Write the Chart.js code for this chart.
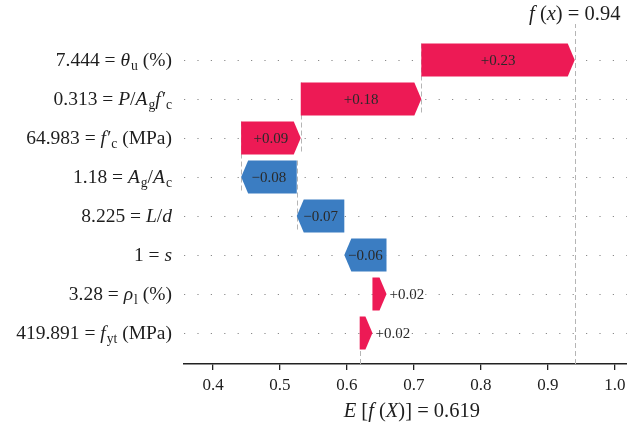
<!DOCTYPE html>
<html>
<head>
<meta charset="utf-8">
<script src="https://cdn.jsdelivr.net/npm/chart.js@4.4.0/dist/chart.umd.min.js"></script>
<style>
  html, body { margin: 0; padding: 0; background: #fff; }
</style>
</head>
<body>
<canvas id="shapChart" width="627" height="431"></canvas>
<script>
// expected model output for the data set
const baseValue = 0.619;

// features, top row first
const featureValues = ["7.444", "0.313", "64.983", "1.18", "8.225", "1", "3.28", "419.891"];
// rich-text pieces: i = italic, sub = subscript
const featureNames = [
    [{ t: "θ", i: 1 }, { t: "u", sub: 1 }, { t: " (%)" }],
    [{ t: "P", i: 1 }, { t: "/" }, { t: "A", i: 1 }, { t: "g", sub: 1 }, { t: "f′", i: 1 }, { t: "c", sub: 1 }],
    [{ t: "f′", i: 1 }, { t: "c", sub: 1 }, { t: " (MPa)" }],
    [{ t: "A", i: 1 }, { t: "g", sub: 1 }, { t: "/" }, { t: "A", i: 1 }, { t: "c", sub: 1 }],
    [{ t: "L", i: 1 }, { t: "/" }, { t: "d", i: 1 }],
    [{ t: "s", i: 1 }],
    [{ t: "ρ", i: 1 }, { t: "l", sub: 1 }, { t: " (%)" }],
    [{ t: "f", i: 1 }, { t: "yt", sub: 1 }, { t: " (MPa)" }]
];
const shapValues = [0.229, 0.180, 0.089, -0.083, -0.071, -0.063, 0.021, 0.019];
const xTicks = [0.4, 0.5, 0.6, 0.7, 0.8, 0.9, 1.0];

const RED = "#ED1A55";
const BLUE = "#3B7DC2";
const SERIF = "'Liberation Serif', 'DejaVu Serif', serif";

// waterfall: accumulate from the bottom row upwards
const n = shapValues.length;
const starts = new Array(n);
let acc = baseValue;
for (let i = n - 1; i >= 0; i--) {
    starts[i] = acc;
    acc += shapValues[i];
}
const fx = acc;
const barData = shapValues.map((v, i) => ({ x: [starts[i], starts[i] + v], y: n - 1 - i }));

function fmtShap(v) {
    return (v >= 0 ? "+" : "\u2212") + Math.abs(v).toFixed(2);
}

function richWidth(ctx, parts, size) {
    let w = 0;
    parts.forEach(p => {
        const s = p.sub ? size * 0.7 : size;
        ctx.font = (p.i ? "italic " : "") + s + "px " + SERIF;
        w += ctx.measureText(p.t).width + (p.sub ? 1 : 0);
    });
    return w;
}

function drawRich(ctx, parts, xRight, y, size) {
    let x = xRight - richWidth(ctx, parts, size);
    ctx.textAlign = "left";
    ctx.textBaseline = "alphabetic";
    parts.forEach(p => {
        const s = p.sub ? size * 0.7 : size;
        ctx.font = (p.i ? "italic " : "") + s + "px " + SERIF;
        ctx.fillText(p.t, x + (p.sub ? 1 : 0), p.sub ? y + size * 0.22 : y);
        x += ctx.measureText(p.t).width + (p.sub ? 1 : 0);
    });
}

const waterfallPlugin = {
    id: "waterfall",
    beforeDatasetsDraw(chart) {
        const { ctx, chartArea, scales } = chart;
        const xs = scales.x, ys = scales.y;
        ctx.save();
        // dotted guide for every row
        ctx.strokeStyle = "#8a8a8a";
        ctx.lineWidth = 1.2;
        ctx.setLineDash([1.2, 12.2]);
        for (let r = 0; r < n; r++) {
            const y = Math.round(ys.getPixelForValue(r)) + 0.5;
            ctx.beginPath();
            ctx.moveTo(chartArea.left, y);
            ctx.lineTo(chartArea.right, y);
            ctx.stroke();
        }
        // dashed connectors between consecutive bars (top four rows)
        ctx.strokeStyle = "#b5b5b5";
        ctx.lineWidth = 1;
        ctx.setLineDash([5, 3]);
        for (let i = 0; i < n; i++) {
            if (i + 4 >= n) continue;
            const r = n - 1 - i;
            const x = Math.round(xs.getPixelForValue(starts[i])) + 0.5;
            ctx.beginPath();
            ctx.moveTo(x, ys.getPixelForValue(r + 0.42));
            ctx.lineTo(x, ys.getPixelForValue(r - 1.42));
            ctx.stroke();
        }
        // expected value and prediction lines
        const bx = Math.round(xs.getPixelForValue(baseValue)) + 0.5;
        ctx.beginPath();
        ctx.moveTo(bx, chartArea.bottom);
        ctx.lineTo(bx, chartArea.bottom - (chartArea.bottom - chartArea.top) / n);
        ctx.stroke();
        const fxp = Math.round(xs.getPixelForValue(fx)) + 0.5;
        ctx.beginPath();
        ctx.moveTo(fxp, chartArea.bottom);
        ctx.lineTo(fxp, chartArea.top);
        ctx.stroke();
        ctx.restore();
    },
    afterDatasetsDraw(chart) {
        const { ctx, scales } = chart;
        const xs = scales.x;
        const meta = chart.getDatasetMeta(0);
        ctx.save();
        meta.data.forEach((el, i) => {
            const v = shapValues[i];
            const x0 = xs.getPixelForValue(starts[i]);
            const x1 = xs.getPixelForValue(starts[i] + v);
            const top = el.y - el.height / 2, bot = el.y + el.height / 2;
            const w = Math.abs(x1 - x0);
            const head = Math.min(7, w * 0.55);
            const dir = v >= 0 ? 1 : -1;
            const neck = x1 - dir * head;
            ctx.fillStyle = v >= 0 ? RED : BLUE;
            ctx.beginPath();
            ctx.moveTo(x0, top);
            ctx.lineTo(neck, top);
            ctx.lineTo(x1, el.y);
            ctx.lineTo(neck, bot);
            ctx.lineTo(x0, bot);
            ctx.closePath();
            ctx.fill();

            // value text inside the arrow when it fits, otherwise past the tip
            const label = fmtShap(v);
            ctx.font = "15px " + SERIF;
            ctx.fillStyle = "#2a2a2a";
            ctx.textBaseline = "middle";
            const tw = ctx.measureText(label).width;
            if (tw + 2 < w) {
                ctx.textAlign = "center";
                ctx.fillText(label, (x1 + x0) / 2, el.y + 1);
            } else {
                ctx.textAlign = dir > 0 ? "left" : "right";
                ctx.fillText(label, x1 + dir * 3, el.y + 1);
            }
        });
        ctx.restore();
    },
    afterDraw(chart) {
        const { ctx, chartArea, scales } = chart;
        const xs = scales.x, ys = scales.y;
        ctx.save();
        ctx.fillStyle = "#1e1e1e";
        // row labels
        for (let i = 0; i < n; i++) {
            const y = ys.getPixelForValue(n - 1 - i) + 6;
            drawRich(ctx, [{ t: featureValues[i] + " = " }].concat(featureNames[i]), 172, y, 19.5);
        }
        // tick labels
        ctx.font = "17px " + SERIF;
        ctx.textAlign = "center";
        ctx.textBaseline = "alphabetic";
        xTicks.forEach(t => {
            ctx.fillText(t.toFixed(1), xs.getPixelForValue(t), chartArea.bottom + 26);
        });
        // prediction on top
        const fxp = xs.getPixelForValue(fx);
        const topParts = [{ t: "f", i: 1 }, { t: " (" }, { t: "x", i: 1 }, { t: ") = " + fx.toFixed(2) }];
        const tw = richWidth(ctx, topParts, 20.5);
        drawRich(ctx, topParts, fxp + tw / 2, 20, 20.5);
        // expected value under the axis
        const bx = xs.getPixelForValue(baseValue);
        const botParts = [{ t: "E", i: 1 }, { t: " [" }, { t: "f", i: 1 }, { t: " (" }, { t: "X", i: 1 }, { t: ")] = " + baseValue.toFixed(3) }];
        const bw = richWidth(ctx, botParts, 20.5);
        drawRich(ctx, botParts, bx - 16 + bw, chartArea.bottom + 53, 20.5);
        ctx.restore();
    }
};

const ctx = document.getElementById("shapChart").getContext("2d");
const shapChart = new Chart(ctx, {
    type: "bar",
    data: {
        datasets: [{
            data: barData,
            backgroundColor: "rgba(0,0,0,0)",
            borderWidth: 0,
            barThickness: 33
        }]
    },
    options: {
        indexAxis: "y",
        responsive: false,
        devicePixelRatio: 1,
        animation: false,
        layout: { padding: { left: 184, right: 0, top: 24, bottom: 0 } },
        plugins: {
            legend: { display: false },
            tooltip: { enabled: false }
        },
        scales: {
            x: {
                type: "linear",
                min: 0.3567,
                max: 1.018,
                afterBuildTicks: scale => { scale.ticks = xTicks.map(v => ({ value: v })); },
                afterFit: scale => { scale.height = 67; },
                grid: {
                    display: true,
                    drawOnChartArea: false,
                    drawTicks: true,
                    tickLength: 6,
                    color: "#222",
                    lineWidth: 1.3
                },
                border: { display: true, color: "#222", width: 1.6 },
                ticks: { display: false }
            },
            y: {
                type: "linear",
                display: false,
                offset: false,
                grid: { offset: false },
                min: -0.795,
                max: 7.92
            }
        }
    },
    plugins: [waterfallPlugin]
});
</script>
</body>
</html>
